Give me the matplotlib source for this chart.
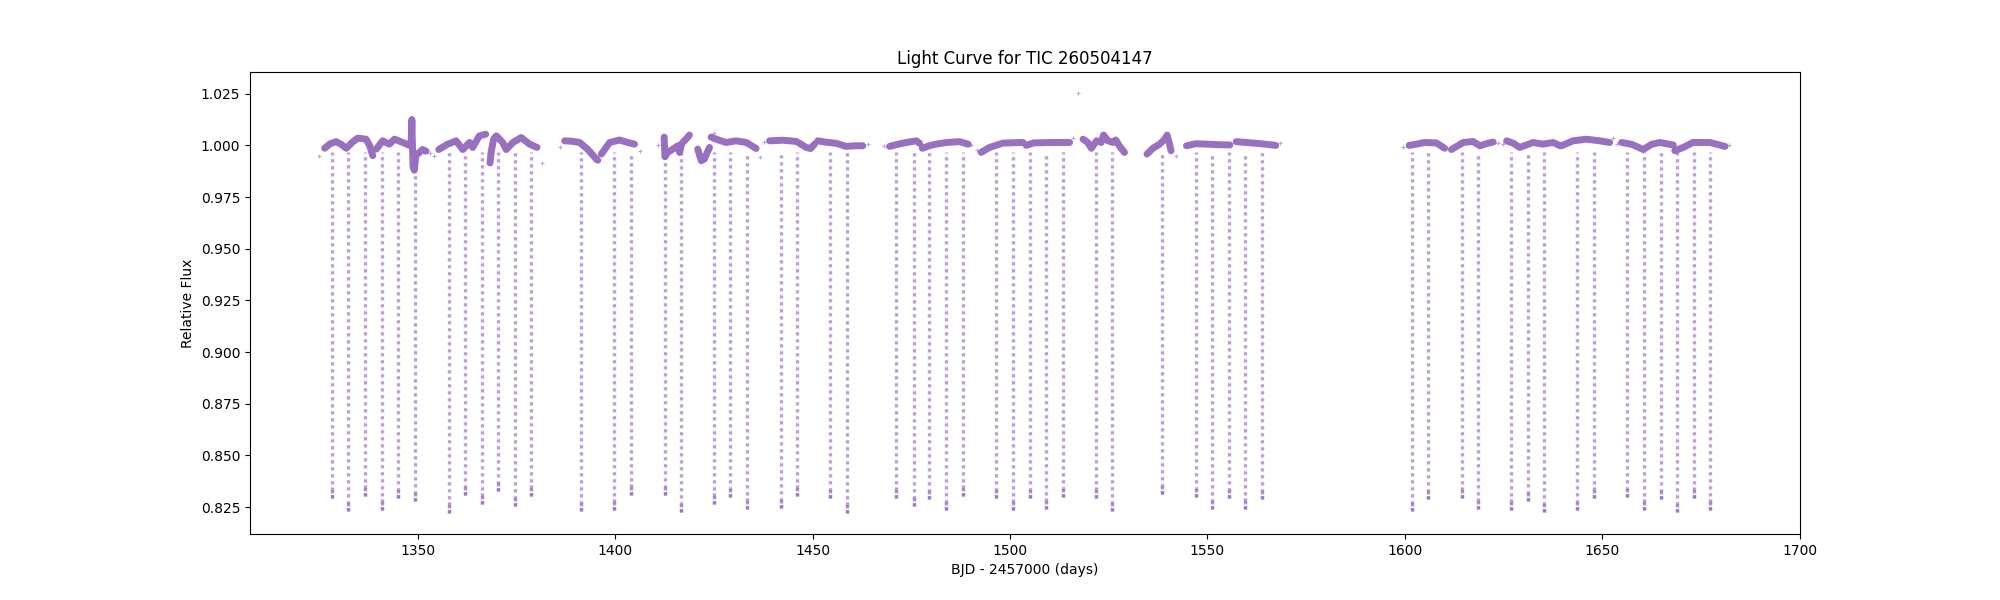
import numpy as np
import matplotlib
matplotlib.use("Agg")
import matplotlib.pyplot as plt

nan = np.nan
# Out-of-eclipse baseline knots (segments separated by NaN)
baseline_t = [
    1326.4, 1327.8, 1329.3, 1330.6, 1331.9, 1333.4, 1334.8, 1336.9, 1337.8, 1338.6, nan,
    1339.5, 1341.1, 1342.8, 1344.1, 1346.2, 1347.9, 1348.3, 1348.5, 1348.6, 1348.8, 1349.1, 1349.5, 1350.4, 1351.2, 1352.1, nan,
    1355.3, 1357.5, 1359.7, 1361.4, 1363.1, 1363.9, 1365.6, 1367.2, nan,
    1368.3, 1368.6, 1369.2, 1369.9, 1371.5, 1372.4, 1374.1, 1376.2, 1378.3, 1380.2, nan,
    1387.2, 1389.0, 1391.0, 1393.1, 1395.2, 1395.6, nan,
    1396.5, 1398.6, 1401.1, 1403.0, 1404.9, nan,
    1412.4, 1412.6, 1413.3, 1415.9, 1416.3, 1416.8, 1417.1, 1418.4, 1418.8, nan,
    1420.9, 1421.8, 1422.6, 1423.5, 1423.9, nan,
    1424.3, 1425.6, 1428.1, 1430.6, 1433.2, 1435.3, 1435.7, nan,
    1439.1, 1442.5, 1445.9, 1448.4, 1449.5, 1450.5, nan,
    1451.3, 1453.5, 1456.0, 1458.5, 1460.5, 1462.7, nan,
    1469.5, 1471.5, 1473.7, 1476.3, 1477.1, nan,
    1477.8, 1479.5, 1481.3, 1483.9, 1487.2, 1489.4, nan,
    1492.7, 1494.8, 1498.2, 1502.4, 1503.3, nan,
    1504.1, 1506.0, 1510.0, 1515.1, nan,
    1518.5, 1519.7, 1520.6, 1521.9, 1523.1, 1523.7, 1524.8, 1526.1, 1526.8, 1527.8, 1529.0, nan,
    1534.7, 1536.2, 1537.9, 1539.2, 1539.8, 1540.4, 1540.8, nan,
    1544.7, 1547.0, 1550.0, 1553.0, 1555.7, nan,
    1557.3, 1560.0, 1562.4, 1565.0, 1567.3, nan,
    1601.1, 1603.0, 1605.0, 1608.0, 1610.1, nan,
    1611.8, 1614.8, 1617.3, 1619.0, 1621.0, 1622.4, nan,
    1625.8, 1627.5, 1629.1, 1632.5, 1635.0, 1637.6, 1639.3, nan,
    1639.7, 1642.6, 1646.0, 1649.4, 1651.9, nan,
    1654.9, 1657.5, 1660.4, 1662.5, 1664.6, 1668.0, nan,
    1668.4, 1670.5, 1673.0, 1677.3, 1681.1,
]
baseline_f = [
    0.9986, 1.0008, 1.0018, 1.0005, 0.9986, 1.0015, 1.0035, 1.0030, 1.0000, 0.9950, nan,
    0.9982, 1.0022, 1.0006, 1.0030, 1.0014, 1.0000, 1.0005, 1.0125, 1.0030, 0.9900, 0.9880, 0.9950, 0.9966, 0.9980, 0.9972, nan,
    0.9980, 1.0005, 1.0022, 0.9980, 1.0014, 0.9990, 1.0046, 1.0054, nan,
    0.9915, 0.9970, 1.0030, 1.0046, 1.0014, 0.9980, 1.0014, 1.0038, 1.0006, 0.9990, nan,
    1.0022, 1.0020, 1.0014, 0.9980, 0.9934, 0.9928, nan,
    0.9958, 1.0014, 1.0026, 1.0015, 1.0006, nan,
    1.0040, 0.9945, 0.9966, 0.9998, 0.9966, 1.0005, 1.0014, 1.0040, 1.0050, nan,
    0.9982, 0.9926, 0.9934, 0.9974, 0.9990, nan,
    1.0040, 1.0030, 1.0014, 1.0022, 1.0014, 0.9990, 0.9985, nan,
    1.0022, 1.0025, 1.0019, 0.9990, 0.9985, 1.0006, nan,
    1.0022, 1.0015, 1.0010, 0.9995, 0.9998, 0.9998, nan,
    0.9995, 1.0005, 1.0014, 1.0022, 1.0010, nan,
    0.9986, 0.9998, 1.0006, 1.0014, 1.0018, 1.0006, nan,
    0.9966, 0.9990, 1.0011, 1.0014, 1.0014, nan,
    1.0000, 1.0012, 1.0014, 1.0014, nan,
    1.0030, 1.0014, 0.9986, 1.0022, 1.0014, 1.0050, 1.0022, 1.0014, 1.0026, 0.9995, 0.9966, nan,
    0.9958, 0.9986, 1.0006, 1.0030, 1.0050, 1.0006, 0.9974, nan,
    0.9998, 1.0008, 1.0006, 1.0003, 1.0002, nan,
    1.0018, 1.0014, 1.0010, 1.0005, 1.0000, nan,
    1.0000, 1.0006, 1.0014, 1.0012, 0.9986, nan,
    0.9980, 1.0014, 1.0019, 0.9998, 1.0010, 1.0016, nan,
    1.0022, 1.0010, 0.9990, 1.0014, 1.0006, 1.0014, 0.9998, nan,
    0.9998, 1.0022, 1.0030, 1.0022, 1.0014, nan,
    1.0014, 1.0005, 0.9980, 1.0005, 1.0014, 1.0002, nan,
    0.9974, 0.9990, 1.0014, 1.0014, 0.9995,
]

# Eclipse mid-times and minimum flux
eclipse_t = [
    1328.2, 1332.4, 1336.6, 1340.9, 1345.0, 1349.3, 1357.8, 1362.0, 1366.2, 1370.3,
    1374.6, 1378.7, 1391.4, 1399.8, 1404.0, 1412.5, 1416.7, 1425.0, 1429.2, 1433.4,
    1441.9, 1446.1, 1454.3, 1458.8, 1471.2, 1475.6, 1479.6, 1483.9, 1488.1, 1496.5,
    1500.7, 1505.0, 1509.0, 1513.3, 1521.9, 1525.9, 1538.6, 1547.0, 1551.2, 1555.4,
    1559.6, 1563.8, 1601.8, 1605.9, 1614.4, 1618.6, 1627.0, 1631.1, 1635.3, 1643.7,
    1647.9, 1656.3, 1660.6, 1664.8, 1669.0, 1673.2, 1677.4,
]
eclipse_depth = [
    0.8295, 0.8229, 0.8306, 0.8238, 0.8293, 0.8280, 0.8223, 0.8309, 0.8266, 0.8327,
    0.8255, 0.8306, 0.8229, 0.8237, 0.8310, 0.8309, 0.8226, 0.8266, 0.8298, 0.8242,
    0.8245, 0.8306, 0.8293, 0.8223, 0.8295, 0.8255, 0.8290, 0.8234, 0.8306, 0.8293,
    0.8237, 0.8293, 0.8242, 0.8298, 0.8295, 0.8231, 0.8314, 0.8298, 0.8239, 0.8293,
    0.8242, 0.8290, 0.8231, 0.8290, 0.8295, 0.8242, 0.8237, 0.8279, 0.8226, 0.8234,
    0.8295, 0.8298, 0.8237, 0.8287, 0.8226, 0.8295, 0.8237,
]

# Isolated points
outlier_t = [1325.1, 1353.1, 1354.1, 1381.4, 1385.9, 1406.3, 1410.8, 1425.0, 1436.8,
             1437.8, 1464.0, 1468.2, 1490.2, 1491.7, 1516.0, 1517.2, 1542.1, 1568.3,
             1599.6, 1623.6, 1624.9, 1652.8, 1653.8, 1682.2]
outlier_f = [0.9947, 0.9962, 0.9947, 0.9913, 0.9990, 0.9971, 1.0002, 1.0062, 0.9942,
             1.0014, 1.0006, 0.9998, 1.0002, 0.9980, 1.0038, 1.0255, 0.9947, 1.0010,
             0.9990, 1.0010, 1.0006, 1.0038, 1.0006, 1.0002]

color = "#9467bd"

fig, ax = plt.subplots(figsize=(20, 6), dpi=100)

# eclipse columns (sparse points)
ax.vlines(eclipse_t, eclipse_depth, 0.997, colors=color, linewidth=2.4,
          linestyles=(0, (1.0, 1.1)), alpha=0.62)
# denser bottom of each eclipse
ax.vlines(eclipse_t, eclipse_depth, np.array(eclipse_depth) + 0.005, colors=color,
          linewidth=2.4, linestyles=(0, (1.0, 0.5)), alpha=0.7)

# out-of-eclipse band
ax.plot(baseline_t, baseline_f, color=color, linewidth=5.0, alpha=0.95,
        solid_capstyle="round", solid_joinstyle="round")

ax.scatter(outlier_t, outlier_f, marker="+", s=6, color=color, alpha=0.6, linewidths=0.8)

ax.set_xlim(1307.5, 1700.1)
ax.set_ylim(0.8120, 1.0355)
ax.set_title("Light Curve for TIC 260504147")
ax.set_xlabel("BJD - 2457000 (days)")
ax.set_ylabel("Relative Flux")

fig.savefig("out.png", dpi=100)
